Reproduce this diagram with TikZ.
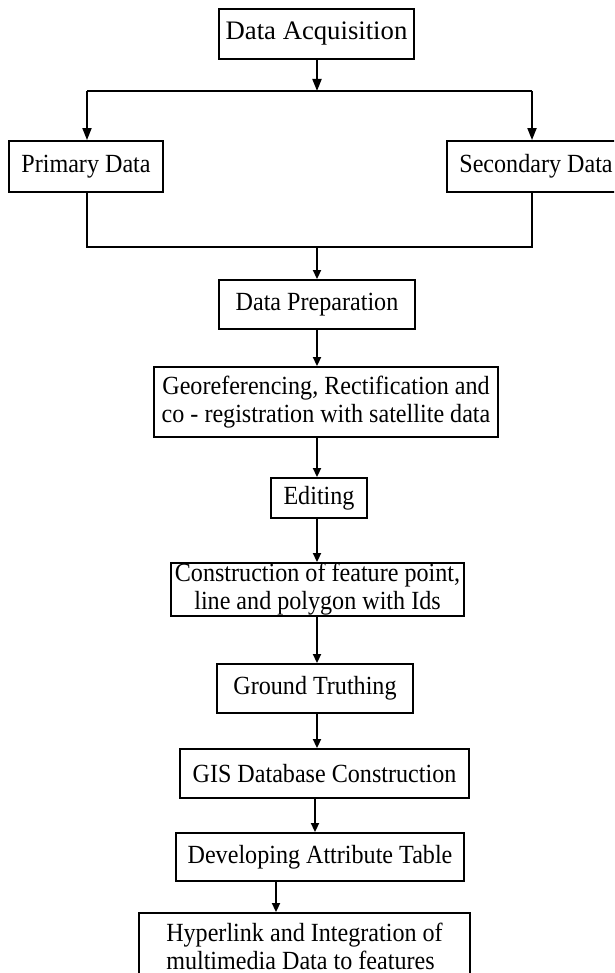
\documentclass[tikz,border=0pt]{standalone}
\usepackage{fontspec}
\setmainfont{Liberation Serif}
\newfontfamily\narrowserif[FakeStretch=0.92]{Liberation Serif}
\usetikzlibrary{arrows.meta}
\tikzset{
  box/.style={draw, line width=1.9pt, inner sep=0pt, align=center,
    font=\narrowserif\fontsize{26.2}{28}\selectfont},
  conn/.style={line width=1.9pt},
  arr/.style={line width=1.9pt, -{Triangle[width=8pt,length=9pt]}},
  bigarr/.style={line width=1.9pt, -{Triangle[width=9pt,length=12pt]}}
}
\begin{document}
\begin{tikzpicture}[x=1pt,y=1pt]
\useasboundingbox (0,0) rectangle (614,-973);
\clip (0,0) rectangle (614,-973);
% boxes
\node[box, font=\rmfamily\fontsize{26.7}{30}\selectfont, minimum width=195pt, minimum height=50pt] (da) at (316.5,-34) {Data Acquisition};
\node[box, minimum width=154pt, minimum height=51pt] (pd) at (86,-166.5) {Primary Data};
\node[box, minimum width=178pt, minimum height=51pt] (sd) at (536,-166.5) {Secondary Data};
\node[box, minimum width=196pt, minimum height=49pt] (dp) at (317,-304.5) {Data Preparation};
\node[box, minimum width=344pt, minimum height=70pt] (geo) at (326,-402) {Georeferencing, Rectification and\\co - registration with satellite data};
\node[box, minimum width=96pt, minimum height=40pt] (ed) at (319,-498) {Editing};
\node[box, minimum width=293pt, minimum height=53pt] (con) at (317.5,-589.5) {Construction of feature point,\\line and polygon with Ids};
\node[box, minimum width=196pt, minimum height=49pt] (gt) at (315,-688.5) {Ground Truthing};
\node[box, minimum width=289pt, minimum height=49pt] (gis) at (324.5,-773.5) {GIS Database Construction};
\node[box, minimum width=288pt, minimum height=48pt] (dev) at (320,-857) {Developing Attribute Table};
\node[box, align=left, minimum width=331pt, minimum height=66pt] (hyp) at (304.5,-946) {Hyperlink and Integration of\\multimedia Data to features};
% connectors
\coordinate (t1) at (317,-91);
\coordinate (tl) at (87,-91);
\coordinate (tr) at (532,-91);
\coordinate (b1) at (317,-247);
\coordinate (bl) at (87,-247);
\coordinate (br) at (532,-247);
\draw[bigarr] (da.south -| t1) -- (t1);
\draw[conn] (tl) -- (tr);
\draw[bigarr] (tl) -- (tl |- pd.north);
\draw[bigarr] (tr) -- (tr |- sd.north);
\draw[conn] (pd.south -| bl) -- (bl) -- (br) -- (sd.south -| br);
\draw[arr] (b1) -- (b1 |- dp.north);
\draw[arr] (dp.south -| b1) -- (b1 |- geo.north);
\draw[arr] (geo.south -| b1) -- (b1 |- ed.north);
\draw[arr] (ed.south -| b1) -- (b1 |- con.north);
\draw[arr] (con.south -| b1) -- (b1 |- gt.north);
\draw[arr] (gt.south -| b1) -- (b1 |- gis.north);
\coordinate (c2) at (315,0);
\draw[arr] (gis.south -| c2) -- (c2 |- dev.north);
\coordinate (c3) at (276,0);
\draw[arr] (dev.south -| c3) -- (c3 |- hyp.north);
\end{tikzpicture}
\end{document}
